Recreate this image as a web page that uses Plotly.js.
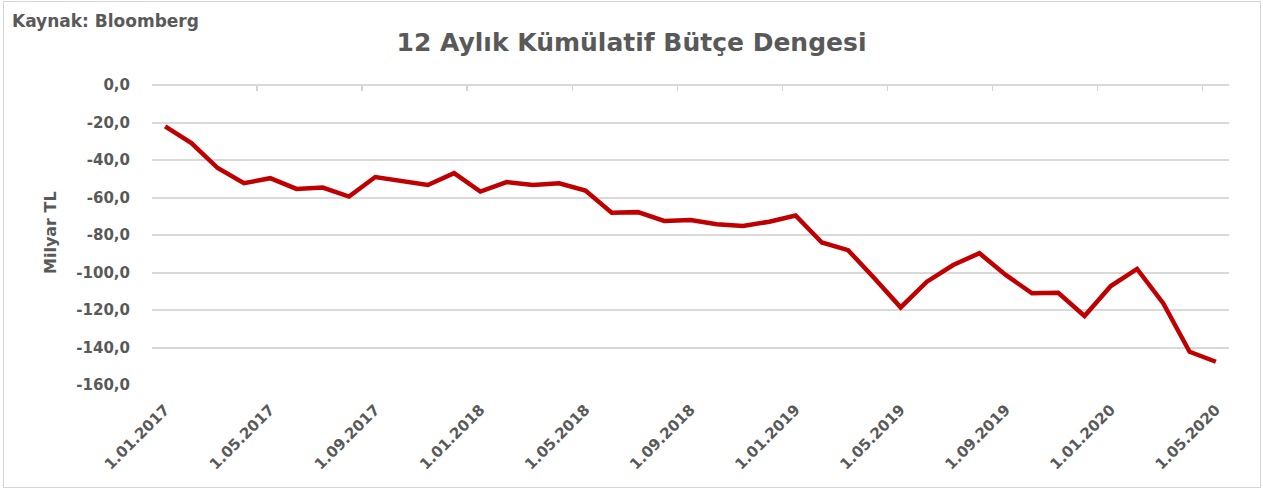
<!DOCTYPE html>
<html>
<head>
<meta charset="utf-8">
<script src="https://cdn.plot.ly/plotly-3.0.1.min.js"></script>
<style>
  html, body { margin: 0; padding: 0; background: #fff; }
  #wrap { position: relative; width: 1263px; height: 491px; }
  #chart { position: absolute; left: 0; top: 0; width: 1263px; height: 491px; }
  #frame { position: absolute; left: 3px; top: 1px; width: 1256px; height: 485px;
           border: 1.5px solid #d4d4d4; pointer-events: none; }
</style>
</head>
<body>
<div id="wrap">
  <div id="chart"></div>
  <div id="frame"></div>
</div>
<script>
// Monthly dates (category labels)
const dates = [
  "1.01.2017","1.02.2017","1.03.2017","1.04.2017","1.05.2017","1.06.2017","1.07.2017","1.08.2017",
  "1.09.2017","1.10.2017","1.11.2017","1.12.2017",
  "1.01.2018","1.02.2018","1.03.2018","1.04.2018","1.05.2018","1.06.2018","1.07.2018","1.08.2018",
  "1.09.2018","1.10.2018","1.11.2018","1.12.2018",
  "1.01.2019","1.02.2019","1.03.2019","1.04.2019","1.05.2019","1.06.2019","1.07.2019","1.08.2019",
  "1.09.2019","1.10.2019","1.11.2019","1.12.2019",
  "1.01.2020","1.02.2020","1.03.2020","1.04.2020","1.05.2020"
];

// 12-month cumulative budget balance (billion TL)
const balance = [
  -22.1, -31.0, -44.3, -52.4, -49.7, -55.4, -54.7, -59.5,
  -49.1, -51.5, -53.3, -47.0,
  -56.8, -51.8, -53.3, -52.4, -56.3, -68.1, -67.8, -72.5,
  -72.0, -74.3, -75.2, -72.9,
  -69.6, -84.0, -88.1, -103.1, -118.6, -104.9, -96.0, -89.7,
  -101.3, -111.1, -110.8, -123.2,
  -107.2, -98.1, -116.5, -142.3, -147.6
];

// Shown x tick labels (every 4th month)
const xTickLabels = [
  "1.01.2017","1.05.2017","1.09.2017","1.01.2018","1.05.2018","1.09.2018",
  "1.01.2019","1.05.2019","1.09.2019","1.01.2020","1.05.2020"
];

// Y tick values and labels
const yTickVals = [0, -20, -40, -60, -80, -100, -120, -140, -160];
const yTickText = ["0,0", "-20,0", "-40,0", "-60,0", "-80,0", "-100,0", "-120,0", "-140,0", "-160,0"];

const chartTitle = "12 Aylık Kümülatif Bütçe Dengesi";
const sourceText = "Kaynak: Bloomberg";
const yTitle = "Milyar TL";

const FONT = "DejaVu Sans, sans-serif";
const GREY = "#595959";

const traces = [
  {
    x: dates, y: balance, type: "scatter", mode: "lines",
    line: { color: "#c00000", width: 4.5 },
    hoverinfo: "skip", showlegend: false, xaxis: "x", yaxis: "y"
  },
  {
    x: dates, y: balance, type: "scatter", mode: "lines",
    line: { color: "rgba(0,0,0,0)", width: 0 },
    hoverinfo: "skip", showlegend: false, xaxis: "x2", yaxis: "y"
  }
];

const layout = {
  width: 1263, height: 491,
  margin: { l: 152, r: 34, t: 85, b: 106 },
  paper_bgcolor: "#ffffff", plot_bgcolor: "#ffffff",
  font: { family: FONT, color: GREY, size: 15, weight: "bold" },
  showlegend: false,
  hovermode: false,
  title: {
    text: chartTitle,
    x: 0.5, xref: "container", xanchor: "center",
    y: 1 - 42 / 491, yref: "container", yanchor: "middle",
    font: { family: FONT, size: 25, color: GREY, weight: "bold" }
  },
  xaxis: {
    type: "category",
    range: [-0.5, dates.length - 0.5],
    tickmode: "array",
    tickvals: xTickLabels,
    ticktext: xTickLabels,
    tickangle: -45,
    ticks: "outside", ticklen: 9, tickcolor: "rgba(0,0,0,0)",
    showgrid: false, zeroline: false, showline: false,
    tickfont: { family: FONT, size: 15, color: GREY, weight: "bold" }
  },
  xaxis2: {
    type: "category",
    overlaying: "x", side: "top", anchor: "free", position: 1,
    range: [-0.5, dates.length - 0.5],
    tickmode: "array",
    tickvals: xTickLabels,
    tickson: "boundaries",
    ticks: "inside", ticklen: 5, tickwidth: 1.5, tickcolor: "#d4d4d4",
    showticklabels: false, showgrid: false, zeroline: false, showline: false
  },
  yaxis: {
    range: [-160, 0],
    tickmode: "array",
    tickvals: yTickVals,
    ticktext: yTickText,
    ticks: "outside", ticklen: 18, tickcolor: "rgba(0,0,0,0)",
    showgrid: true, gridcolor: "#d9d9d9", gridwidth: 2,
    zeroline: true, zerolinecolor: "#d9d9d9", zerolinewidth: 2,
    showline: false,
    tickfont: { family: FONT, size: 15, color: GREY, weight: "bold" }
  },
  annotations: [
    {
      text: sourceText, xref: "paper", yref: "paper",
      x: (10 - 152) / 1077, xanchor: "left",
      y: 1 + (85 - 21) / 300, yanchor: "middle",
      showarrow: false,
      font: { family: FONT, size: 17, color: GREY, weight: "bold" }
    },
    {
      text: yTitle, xref: "paper", yref: "paper",
      x: (50 - 152) / 1077, xanchor: "center",
      y: 1 - (233 - 85) / 300, yanchor: "middle", textangle: -90,
      showarrow: false,
      font: { family: FONT, size: 16, color: GREY, weight: "bold" }
    }
  ]
};

Plotly.newPlot("chart", traces, layout, { staticPlot: true, displayModeBar: false });
</script>
</body>
</html>
